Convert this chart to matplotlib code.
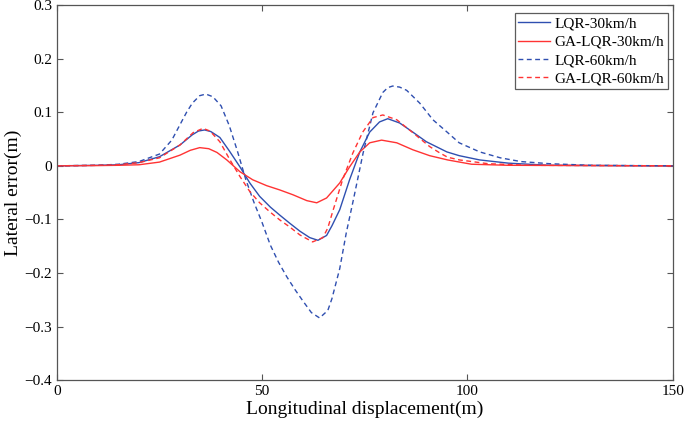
import matplotlib
matplotlib.use("Agg")
import matplotlib.pyplot as plt

plt.rcParams['font.family'] = ['Liberation Serif', 'DejaVu Serif']

# readings
x_lqr30 = [0, 10, 15, 20, 25, 30, 33, 34.5, 36, 37.5, 39.7, 42, 44.6, 47, 49.4, 52, 54.3, 56.7, 59.2, 61.6, 63.6,
           65.7, 67, 68.9, 71.3, 73.8, 76.2, 78.6, 80.6, 83.5, 86.7, 90, 95, 98, 103, 110, 120, 150]
y_lqr30 = [0, 0.001, 0.002, 0.006, 0.017, 0.039, 0.058, 0.065, 0.067, 0.064, 0.053, 0.028, -0.002, -0.032, -0.057,
           -0.077, -0.092, -0.107, -0.122, -0.134, -0.139, -0.130, -0.112, -0.082, -0.026, 0.026, 0.063, 0.082,
           0.088, 0.080, 0.063, 0.045, 0.026, 0.019, 0.011, 0.005, 0.001, 0]

x_ga30 = [0, 10, 15, 20, 25, 30, 32.5, 34.8, 37, 39, 41.4, 44.6, 47.7, 51.1, 54.3, 57.5, 60.9, 63.3, 65.7, 68.9,
          71.3, 73.8, 76.2, 79.1, 82.8, 86.7, 90.8, 95.2, 101, 110, 150]
y_ga30 = [0, 0.0005, 0.001, 0.002, 0.007, 0.020, 0.029, 0.034, 0.032, 0.025, 0.011, -0.011, -0.026, -0.037, -0.045,
          -0.054, -0.065, -0.069, -0.060, -0.032, -0.002, 0.026, 0.043, 0.048, 0.043, 0.030, 0.019, 0.011, 0.003,
          0.001, 0]

x_lqr60 = [0, 10, 15, 20, 25, 28, 30, 31.6, 33, 34.8, 36.3, 38, 40, 42, 44, 46, 48, 50, 52, 54, 56, 58, 60, 62, 64,
           66, 67, 68.9, 70.5, 72.1, 74.6, 77, 79.4, 80.6, 81.8, 83.5, 85.2, 88.4, 91.6, 95.2, 98, 103, 108, 113,
           120, 130, 150]
y_lqr60 = [0, 0.001, 0.003, 0.008, 0.022, 0.048, 0.077, 0.100, 0.117, 0.131, 0.134, 0.129, 0.112, 0.075, 0.027,
           -0.025, -0.068, -0.106, -0.148, -0.180, -0.207, -0.231, -0.253, -0.274, -0.284, -0.270, -0.248, -0.192,
           -0.125, -0.068, 0.024, 0.099, 0.137, 0.146, 0.149, 0.147, 0.141, 0.117, 0.086, 0.062, 0.043, 0.026,
           0.015, 0.008, 0.004, 0.001, 0]

x_ga60 = [0, 10, 15, 20, 25, 30, 33.2, 35.6, 37.3, 39.7, 42.1, 44.6, 47, 49.4, 51.9, 54.3, 56.7, 59.2, 62.3, 64.8,
          66, 67.2, 69.6, 72.1, 74.5, 77, 79.4, 82.8, 86.7, 90.8, 93.3, 95.2, 98.1, 105, 115, 150]
y_ga60 = [0, 0.001, 0.002, 0.006, 0.015, 0.039, 0.062, 0.070, 0.065, 0.045, 0.012, -0.020, -0.048, -0.069, -0.086,
          -0.101, -0.114, -0.129, -0.142, -0.134, -0.116, -0.085, -0.026, 0.024, 0.063, 0.090, 0.095, 0.086, 0.062,
          0.036, 0.024, 0.016, 0.011, 0.004, 0.001, 0]

blue = '#2f4fb0'
red = '#ff3333'

fig = plt.figure(figsize=(6.85, 4.29), dpi=100)
ax = fig.add_axes([0.083, 0.114, 0.899, 0.874])

ax.plot(x_lqr30, y_lqr30, color=blue, lw=1.0, label='LQR-30km/h')
ax.plot(x_ga30, y_ga30, color=red, lw=1.0, label='GA-LQR-30km/h')
ax.plot(x_lqr60, y_lqr60, color=blue, lw=1.0, ls=(0, (3.5, 2.5)), label='LQR-60km/h')
ax.plot(x_ga60, y_ga60, color=red, lw=1.0, ls=(0, (3.5, 2.5)), label='GA-LQR-60km/h')

ax.set_xlim(0, 150)
ax.set_ylim(-0.4, 0.3)
ax.set_xticks([0, 50, 100, 150])
ax.set_yticks([-0.4, -0.3, -0.2, -0.1, 0, 0.1, 0.2, 0.3])
ax.set_yticklabels(['\u22120.4', '\u22120.3', '\u22120.2', '\u22120.1', '0', '0.1', '0.2', '0.3'])
ax.tick_params(direction='in', top=True, right=True, labelsize=11, length=4, color='#555555')
for s in ax.spines.values():
    s.set_color('#555555')
    s.set_linewidth(0.9)

ax.set_xlabel('Longitudinal displacement(m)', fontsize=14, labelpad=2)
ax.set_ylabel('Lateral error(m)', fontsize=14, labelpad=2)

leg = ax.legend(loc='upper right', fontsize=11, frameon=True, fancybox=False, edgecolor='#333333',
                handlelength=2.1, handletextpad=0.25, borderpad=0.25, labelspacing=0.3,
                borderaxespad=0, bbox_to_anchor=(0.9919, 0.9787))
leg.get_frame().set_linewidth(0.9)

fig.savefig('out.png', dpi=100)
